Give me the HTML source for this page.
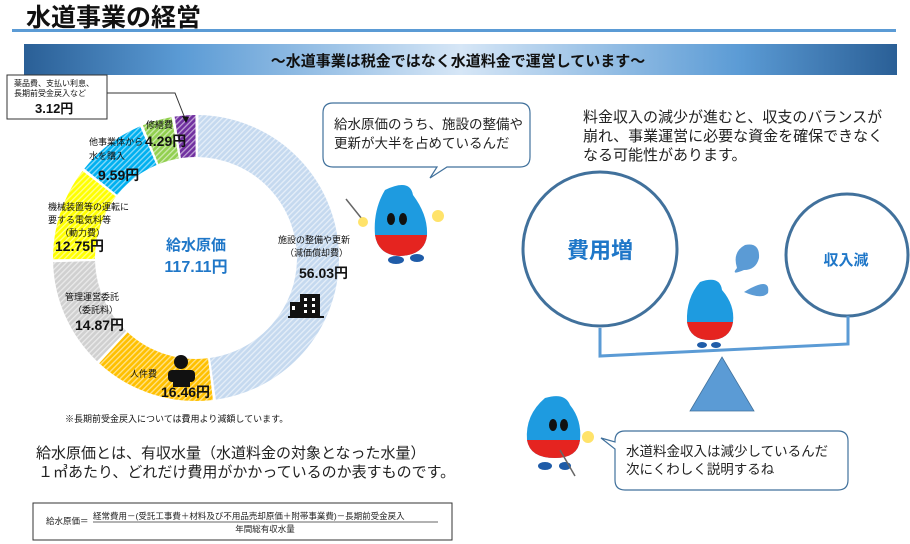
<!DOCTYPE html>
<html><head><meta charset="utf-8"><style>
html,body{margin:0;padding:0;background:#fff;}
svg{display:block;font-family:"Liberation Sans","Noto Sans CJK JP",sans-serif;}
</style></head><body>
<svg width="910" height="544" viewBox="0 0 910 544" xmlns="http://www.w3.org/2000/svg">
<defs>
<linearGradient id="bn" x1="0" x2="1" y1="0" y2="0">
<stop offset="0" stop-color="#2a5f96"/><stop offset="0.18" stop-color="#5b9bd5"/><stop offset="0.5" stop-color="#d6e6f6"/><stop offset="0.82" stop-color="#5b9bd5"/><stop offset="1" stop-color="#2a5f96"/>
</linearGradient>
<pattern id="h" width="4" height="4" patternUnits="userSpaceOnUse" patternTransform="rotate(45)"><rect width="1.3" height="4" fill="#fff"/></pattern>
</defs>
<!-- header -->
<text x="26" y="26" font-size="25" font-weight="bold" fill="#111">水道事業の経営</text>
<rect x="12" y="29" width="884" height="3" fill="#5b9bd5"/>
<rect x="24" y="44" width="873" height="31" fill="url(#bn)"/>
<text x="458" y="66" font-size="15" font-weight="bold" text-anchor="middle" fill="#111">～水道事業は税金ではなく水道料金で運営しています～</text>

<!-- donut -->
<g fill="none" stroke-width="42">
<circle cx="196" cy="258" r="122" pathLength="360" stroke="#c5d9ef" stroke-dasharray="171 189" transform="rotate(-89 196 258)"/>
<circle cx="196" cy="258" r="122" pathLength="360" stroke="#ffc000" stroke-dasharray="49.4 310.6" transform="rotate(83.2 196 258)"/>
<circle cx="196" cy="258" r="122" pathLength="360" stroke="#d0d0d0" stroke-dasharray="44.5 315.5" transform="rotate(133.8 196 258)"/>
<circle cx="196" cy="258" r="122" pathLength="360" stroke="#ffff00" stroke-dasharray="38 322" transform="rotate(179.5 196 258)"/>
<circle cx="196" cy="258" r="122" pathLength="360" stroke="#00b0f0" stroke-dasharray="28.3 331.7" transform="rotate(218.7 196 258)"/>
<circle cx="196" cy="258" r="122" pathLength="360" stroke="#92d050" stroke-dasharray="12 348" transform="rotate(248.2 196 258)"/>
<circle cx="196" cy="258" r="122" pathLength="360" stroke="#7030a0" stroke-dasharray="8.4 351.6" transform="rotate(261.4 196 258)"/>
<circle cx="196" cy="258" r="122" stroke="url(#h)" opacity="0.55"/>
</g>
<g font-size="9" fill="#111">
<text x="146" y="128">修繕費</text>
<text x="145" y="146" font-size="14" font-weight="bold">4.29円</text>
<text x="89" y="145">他事業体から</text>
<text x="89" y="159">水を購入</text>
<text x="98" y="180" font-size="14" font-weight="bold">9.59円</text>
<text x="48" y="210">機械装置等の運転に</text>
<text x="48" y="223">要する電気料等</text>
<text x="60" y="236">（動力費）</text>
<text x="55" y="251" font-size="14" font-weight="bold">12.75円</text>
<text x="65" y="300">管理運営委託</text>
<text x="73" y="313">（委託料）</text>
<text x="75" y="330" font-size="14" font-weight="bold">14.87円</text>
<text x="130" y="377">人件費</text>
<text x="161" y="397" font-size="14" font-weight="bold">16.46円</text>
<text x="278" y="243">施設の整備や更新</text>
<text x="285" y="256">（減価償却費）</text>
<text x="299" y="278" font-size="14" font-weight="bold">56.03円</text>
<text x="65" y="422">※長期前受金戻入については費用より減額しています。</text>
</g>
<text x="196" y="250" font-size="15" font-weight="bold" fill="#1f77c8" text-anchor="middle">給水原価</text>
<text x="196" y="272" font-size="16" font-weight="bold" fill="#1f77c8" text-anchor="middle">117.11円</text>
<!-- building -->
<g fill="#111"><rect x="288" y="316" width="36" height="2"/><rect x="300" y="294" width="20" height="22"/><rect x="290" y="302" width="10" height="14"/>
<g fill="#fff"><rect x="304" y="298" width="3" height="3"/><rect x="312" y="298" width="3" height="3"/><rect x="304" y="304" width="3" height="3"/><rect x="312" y="304" width="3" height="3"/><rect x="304" y="310" width="3" height="3"/><rect x="312" y="310" width="3" height="3"/><rect x="292" y="306" width="3" height="4"/></g></g>
<!-- person -->
<g fill="#111"><circle cx="181" cy="362" r="7"/><rect x="168" y="370" width="27" height="12" rx="4"/><rect x="173" y="376" width="17" height="11"/></g>
<!-- small box -->
<rect x="7" y="75" width="100" height="44" fill="#fff" stroke="#333" stroke-width="1"/>
<text x="14" y="86" font-size="8" fill="#111">薬品費、支払い利息、</text>
<text x="14" y="96" font-size="8" fill="#111">長期前受金戻入など</text>
<text x="35" y="113" font-size="13" font-weight="bold" fill="#111">3.12円</text>
<polyline points="107,93 175,93 186,121" fill="none" stroke="#333" stroke-width="1"/>
<polygon points="186,123 182,116 189,117" fill="#111"/>

<!-- bubble 1 -->
<path d="M333,103 H520 Q530,103 530,113 V157 Q530,167 520,167 H447 L430,178 L437,167 H333 Q323,167 323,157 V113 Q323,103 333,103 Z" fill="#fff" stroke="#41719c" stroke-width="1.2"/>
<text x="334" y="129" font-size="13.5" fill="#222">給水原価のうち、施設の整備や</text>
<text x="334" y="148" font-size="13.5" fill="#222">更新が大半を占めているんだ</text>
<!-- character 1 -->
<g>
<line x1="346" y1="199" x2="366" y2="224" stroke="#666" stroke-width="1.5"/>
<path d="M385,190 Q410,178 413,195 Q428,215 427,235 Q425,255 400,256 Q378,255 375,235 Q373,210 385,190Z" fill="#1e9be0"/>
<path d="M375,235 Q378,255 400,256 Q425,255 427,235 Z" fill="#e52420"/>
<ellipse cx="391" cy="219" rx="4" ry="6" fill="#111"/><ellipse cx="403" cy="219" rx="4" ry="6" fill="#111"/>
<circle cx="363" cy="222" r="5" fill="#ffe36a"/><circle cx="438" cy="216" r="6" fill="#ffe36a"/>
<ellipse cx="396" cy="260" rx="8" ry="4" fill="#1f5ca8"/><ellipse cx="417" cy="258" rx="7" ry="4" fill="#1f5ca8"/>
</g>

<!-- right text -->
<g font-size="15" fill="#222">
<text x="583" y="122">料金収入の減少が進むと、収支のバランスが</text>
<text x="583" y="141">崩れ、事業運営に必要な資金を確保できなく</text>
<text x="583" y="160">なる可能性があります。</text>
</g>
<!-- seesaw -->
<circle cx="600" cy="249" r="77" fill="#fff" stroke="#41719c" stroke-width="3"/>
<circle cx="847" cy="255" r="61" fill="#fff" stroke="#41719c" stroke-width="3"/>
<text x="600" y="258" font-size="22" font-weight="bold" fill="#1f77c8" text-anchor="middle">費用増</text>
<text x="846" y="265" font-size="15" font-weight="bold" fill="#1f77c8" text-anchor="middle">収入減</text>
<polyline points="600,328 600,356 848,344 848,316" fill="none" stroke="#5b9bd5" stroke-width="3"/>
<polygon points="722,357 754,411 690,411" fill="#5b9bd5" stroke="#41719c" stroke-width="0.8"/>
<path d="M745,245 Q760,242 759,258 Q756,270 744,270 Q730,276 737,268 Q732,252 745,245Z" fill="#5b9bd5"/>
<path d="M758,285 Q770,281 768,293 Q762,300 744,292 Q752,287 758,285Z" fill="#5b9bd5"/>
<g>
<path d="M700,282 Q720,275 722,290 Q735,305 733,322 Q730,340 710,340 Q690,340 687,322 Q686,298 700,282Z" fill="#1e9be0"/>
<path d="M687,322 Q690,340 710,340 Q730,340 733,322 Z" fill="#e52420"/>
<ellipse cx="702" cy="345" rx="5" ry="3" fill="#1f5ca8"/><ellipse cx="716" cy="345" rx="5" ry="3" fill="#1f5ca8"/>
</g>

<!-- character 2 -->
<g>
<path d="M545,398 Q565,392 570,405 Q582,420 580,440 Q578,458 555,458 Q530,458 527,440 Q525,415 545,398Z" fill="#1e9be0"/>
<path d="M527,440 Q530,458 555,458 Q578,458 580,440 Z" fill="#e52420"/>
<ellipse cx="553" cy="425" rx="4" ry="6" fill="#111"/><ellipse cx="564" cy="425" rx="4" ry="6" fill="#111"/>
<circle cx="588" cy="437" r="6" fill="#ffe36a"/>
<ellipse cx="545" cy="466" rx="7" ry="4" fill="#1f5ca8"/><ellipse cx="565" cy="466" rx="6" ry="4" fill="#1f5ca8"/>
<line x1="560" y1="450" x2="575" y2="476" stroke="#666" stroke-width="1.5"/>
</g>
<!-- bubble 2 -->
<path d="M625,431 H838 Q848,431 848,441 V480 Q848,490 838,490 H625 Q615,490 615,480 V449 L601,438 L615,442 V441 Q615,431 625,431Z" fill="#fff" stroke="#41719c" stroke-width="1.2"/>
<text x="626" y="456" font-size="13.5" fill="#222">水道料金収入は減少しているんだ</text>
<text x="626" y="474" font-size="13.5" fill="#222">次にくわしく説明するね</text>

<!-- bottom text -->
<text x="36" y="458" font-size="15" fill="#222">給水原価とは、有収水量（水道料金の対象となった水量）</text>
<text x="38" y="477" font-size="15" fill="#222">１㎥あたり、どれだけ費用がかかっているのか表すものです。</text>
<rect x="33" y="503" width="419" height="37" fill="#fff" stroke="#333" stroke-width="1"/>
<g font-size="8.5" fill="#222">
<text x="46" y="524">給水原価＝</text>
<text x="93" y="519">経常費用－(受託工事費＋材料及び不用品売却原価＋附帯事業費)－長期前受金戻入</text>
<line x1="93" y1="522" x2="438" y2="522" stroke="#333" stroke-width="0.7"/>
<text x="265" y="532" text-anchor="middle">年間総有収水量</text>
</g>
</svg>
</body></html>
